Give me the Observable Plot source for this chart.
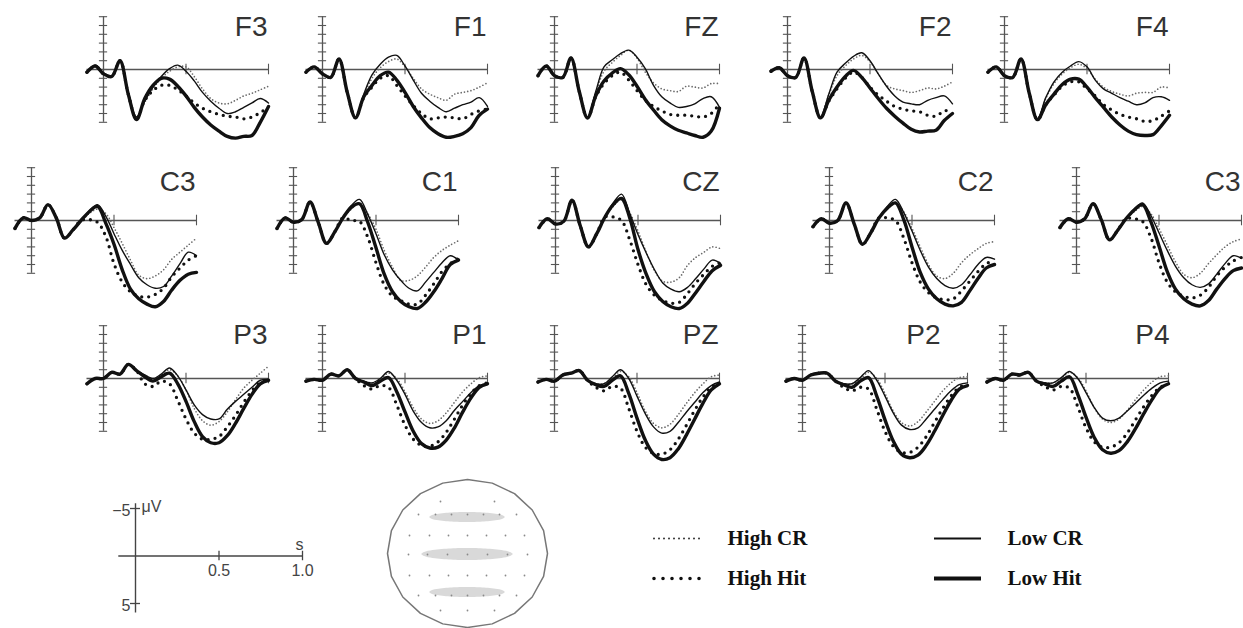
<!DOCTYPE html>
<html><head><meta charset="utf-8">
<script src="https://cdn.jsdelivr.net/npm/d3@7"></script>
<script src="https://cdn.jsdelivr.net/npm/@observablehq/plot@0.6"></script>
<style>
html,body{margin:0;padding:0;background:#fff;overflow:hidden;}
#root{position:relative;width:1243px;height:628px;overflow:hidden;background:#fff;}
#root > svg{position:absolute;margin:0;}
</style></head><body><div id="root"></div>
<script>
// ---------- DATA (seconds, microvolts; negative plotted up) ----------
const times = [-0.1,-0.05,0,0.05,0.1,0.15,0.2,0.25,0.3,0.35,0.4,0.45,0.5,0.55,0.6,0.65,0.7,0.75,0.8,0.85,0.9,0.95,1.0];
const conditions = ["High CR","High Hit","Low CR","Low Hit"];
const channelNames = ["F3","F1","FZ","F2","F4","C3","C1","CZ","C2","C3","P3","P1","PZ","P2","P4"];

const F3_highCR  = [0.3,-0.5,0.4,0.7,-0.9,2.6,5.4,3.7,2.2,1.0,0.2,-0.3,-0.3,0.8,2.2,3.3,3.8,3.9,3.5,3.0,2.7,2.3,1.9];
const F3_highHit = [0.3,-0.4,0.5,0.8,-1.0,2.8,5.6,3.5,2.4,1.8,1.8,2.3,3.0,3.8,4.4,4.8,5.1,5.3,5.4,5.6,5.4,4.9,4.3];
const F3_lowCR   = [0.3,-0.5,0.4,0.7,-0.9,2.6,5.4,3.6,2.0,0.8,-0.1,-0.5,0.2,1.3,2.6,3.6,4.4,5.0,4.8,4.3,3.8,3.3,3.8];
const F3_lowHit  = [0.3,-0.4,0.5,0.8,-1.0,2.8,5.7,3.3,1.8,1.0,1.1,1.9,3.0,4.3,5.4,6.3,7.0,7.6,7.8,7.6,7.5,6.0,4.2];

const F1_highCR  = [0.3,-0.3,0.5,0.9,-1.2,2.5,5.4,3.0,1.0,-0.2,-0.9,-1.2,-0.3,1.0,2.2,2.8,3.2,3.5,2.8,2.6,2.4,2.0,1.5];
const F1_highHit = [0.3,-0.3,0.5,0.9,-1.2,2.6,5.5,3.2,2.0,1.0,0.7,1.8,3.0,4.1,5.0,5.6,5.5,5.4,5.5,5.6,5.1,4.7,4.5];
const F1_lowCR   = [0.3,-0.3,0.5,0.9,-1.2,2.5,5.4,2.8,0.6,-0.6,-1.4,-1.6,-0.4,1.2,2.7,3.6,4.3,4.8,4.4,4.0,3.7,3.2,4.2];
const F1_lowHit  = [0.3,-0.3,0.5,0.9,-1.2,2.6,5.5,3.1,1.8,0.7,0.3,1.2,2.6,4.2,5.5,6.6,7.3,7.7,7.6,7.3,6.6,5.2,4.5];

const FZ_highCR  = [0.7,-0.4,0.7,0.9,-1.3,2.4,5.4,2.6,0.2,-0.8,-1.6,-2.2,-1.3,0.3,1.5,2.2,2.4,2.5,1.9,2.0,2.1,1.6,1.6];
const FZ_highHit = [0.7,-0.4,0.7,0.9,-1.3,2.5,5.5,3.1,1.6,0.7,0.3,1.2,2.4,3.5,4.2,4.7,5.1,5.2,5.2,5.3,5.4,5.0,3.9];
const FZ_lowCR   = [0.7,-0.4,0.7,0.9,-1.3,2.4,5.4,2.5,-0.3,-1.1,-1.8,-2.2,-1.4,-0.1,1.8,3.1,3.8,4.3,4.2,3.9,3.3,3.1,4.3];
const FZ_lowHit  = [0.7,-0.4,0.7,0.9,-1.3,2.5,5.5,3.0,1.3,0.4,-0.1,0.6,1.9,3.4,4.6,5.7,6.4,6.9,7.2,7.5,7.7,7.0,4.4];

const F2_highCR  = [0.2,-0.2,0.7,0.9,-1.3,2.4,5.4,2.9,0.7,-0.4,-1.2,-1.6,-0.9,0.5,1.8,2.2,2.4,2.6,2.4,2.1,2.2,1.9,1.4];
const F2_highHit = [0.2,-0.2,0.7,0.9,-1.3,2.5,5.5,3.6,2.2,1.0,0.3,0.9,2.0,2.9,3.6,4.2,4.5,4.7,4.8,5.2,5.3,4.7,4.7];
const F2_lowCR   = [0.2,-0.2,0.7,0.9,-1.3,2.4,5.4,2.8,0.3,-0.7,-1.5,-1.9,-1.0,0.5,1.9,3.0,3.7,3.9,4.0,3.5,3.2,3.0,3.9];
const F2_lowHit  = [0.2,-0.2,0.7,0.9,-1.3,2.5,5.5,3.5,2.0,0.8,0.1,0.9,2.1,3.3,4.4,5.3,6.1,6.8,7.1,7.0,6.9,5.8,5.0];

const F4_highCR  = [0.3,-0.3,0.7,0.9,-1.2,2.6,5.6,3.3,1.6,0.5,-0.2,-0.6,-0.1,1.1,2.0,2.5,2.8,3.0,2.7,2.6,2.6,2.0,2.1];
const F4_highHit = [0.3,-0.3,0.7,0.9,-1.2,2.7,5.7,4.0,2.9,1.9,1.4,1.4,2.2,3.0,4.0,4.6,5.1,5.4,5.6,5.9,5.8,5.3,4.7];
const F4_lowCR   = [0.3,-0.3,0.7,0.9,-1.2,2.6,5.6,3.2,1.4,0.3,-0.4,-0.9,-0.3,1.2,2.2,2.7,3.2,3.6,4.0,3.8,3.2,3.1,3.5];
const F4_lowHit  = [0.3,-0.3,0.7,0.9,-1.2,2.7,5.7,4.0,2.8,1.7,1.1,1.1,2.0,3.2,4.3,5.4,6.3,7.0,7.4,7.5,7.4,6.4,5.2];

const C3L_highCR  = [0.9,-0.3,0.0,-0.3,-1.8,-0.3,2.0,1.1,0.1,-0.8,-1.3,-0.8,0.8,2.6,4.5,6.2,6.6,6.3,5.6,4.4,3.6,2.8,2.0];
const C3L_highHit = [0.9,-0.3,0.0,-0.3,-1.8,-0.3,2.0,1.1,0.0,-0.1,0.2,1.8,4.9,7.0,8.1,8.6,8.7,8.4,7.7,6.4,5.4,4.5,4.0];
const C3L_lowCR   = [0.9,-0.3,0.0,-0.3,-1.8,-0.3,2.0,1.1,0.0,-1.1,-1.8,-0.5,1.5,3.4,5.0,6.5,7.3,7.7,7.5,6.3,4.9,3.6,4.0];
const C3L_lowHit  = [0.9,-0.3,0.0,-0.3,-1.8,-0.3,2.0,1.1,0.0,-1.0,-1.6,0.3,2.7,5.6,7.8,8.9,9.5,9.8,9.2,7.9,6.8,6.1,5.9];

const C1_highCR  = [0.9,-0.3,0.2,-0.1,-2.1,0.2,2.6,1.3,-0.3,-1.3,-2.0,-0.8,1.0,3.4,5.3,6.8,6.8,6.3,5.3,4.2,3.4,2.8,2.3];
const C1_highHit = [0.9,-0.3,0.2,-0.1,-2.1,0.2,2.6,1.3,-0.3,0.0,0.1,1.9,4.8,7.3,8.6,9.1,9.5,9.5,8.5,7.2,5.8,4.9,4.3];
const C1_lowCR   = [0.9,-0.3,0.2,-0.1,-2.1,0.2,2.6,1.3,-0.3,-1.7,-2.4,-0.7,1.5,3.9,5.6,6.8,7.7,8.0,7.0,5.9,4.8,4.0,4.5];
const C1_lowHit  = [0.9,-0.3,0.2,-0.1,-2.1,0.2,2.6,1.3,-0.3,-1.5,-1.9,0.2,3.1,6.1,8.1,9.2,9.8,10.0,9.3,8.1,6.6,5.0,4.5];

const CZ_highCR  = [0.8,-0.2,0.4,0.1,-2.3,0.6,3.0,1.5,-0.4,-1.6,-2.4,-0.9,1.2,3.6,5.7,6.9,7.0,6.5,5.1,4.2,3.6,3.0,3.2];
const CZ_highHit = [0.8,-0.2,0.4,0.1,-2.3,0.6,3.0,1.5,-0.4,-0.4,0.0,2.2,5.0,7.3,8.5,9.1,9.4,9.3,8.3,7.1,6.1,5.2,4.8];
const CZ_lowCR   = [0.8,-0.2,0.4,0.1,-2.3,0.6,3.0,1.5,-0.4,-2.0,-3.0,-0.8,1.6,3.7,5.6,7.1,7.8,8.1,7.6,6.6,5.5,4.5,4.9];
const CZ_lowHit  = [0.8,-0.2,0.4,0.1,-2.3,0.6,3.0,1.5,-0.4,-1.8,-2.5,-0.3,3.3,6.1,8.1,9.2,9.8,10.0,9.4,8.2,6.9,5.7,5.1];

const C2_highCR  = [0.7,-0.2,0.3,0.0,-2.0,0.4,2.7,1.4,-0.3,-1.3,-2.0,-1.0,0.9,3.0,5.0,6.3,6.6,6.0,4.8,3.9,3.2,2.6,2.4];
const C2_highHit = [0.7,-0.2,0.3,0.0,-2.0,0.4,2.7,1.4,-0.3,-0.3,0.0,2.0,4.8,7.0,8.2,8.8,9.0,8.9,8.0,6.9,5.8,4.9,4.6];
const C2_lowCR   = [0.7,-0.2,0.3,0.0,-2.0,0.4,2.7,1.4,-0.3,-1.6,-2.4,-0.9,1.2,3.4,5.3,6.6,7.4,7.7,7.3,6.2,5.0,4.2,4.4];
const C2_lowHit  = [0.7,-0.2,0.3,0.0,-2.0,0.4,2.7,1.4,-0.3,-1.4,-2.0,-0.1,3.0,5.9,7.8,8.9,9.5,9.7,9.3,8.0,6.6,5.4,5.0];

const C3R_highCR  = [0.8,-0.2,0.2,-0.2,-1.9,-0.1,2.2,1.1,-0.2,-1.0,-1.6,-0.8,0.9,2.8,4.7,6.1,6.5,6.0,4.9,3.9,3.0,2.4,2.1];
const C3R_highHit = [0.8,-0.2,0.2,-0.2,-1.9,-0.1,2.2,1.1,-0.2,-0.2,0.1,1.9,4.8,7.0,8.1,8.6,8.8,8.5,7.6,6.3,5.3,4.6,4.2];
const C3R_lowCR   = [0.8,-0.2,0.2,-0.2,-1.9,-0.1,2.2,1.1,-0.2,-1.3,-2.0,-0.6,1.4,3.4,5.2,6.5,7.3,7.6,7.2,6.1,4.9,4.0,4.3];
const C3R_lowHit  = [0.8,-0.2,0.2,-0.2,-1.9,-0.1,2.2,1.1,-0.2,-1.2,-1.8,0.1,2.9,5.8,7.8,8.9,9.5,9.7,9.1,7.8,6.6,5.7,5.4];

const P3_highCR  = [0.6,0.0,0.0,-0.7,-0.5,-1.6,-0.9,-0.4,0.0,-0.4,-1.0,-0.3,1.3,3.4,4.8,5.3,4.9,3.8,2.4,1.1,0.2,-0.6,-1.4];
const P3_highHit = [0.6,0.0,0.0,-0.7,-0.5,-1.6,-0.9,0.6,0.9,0.3,0.6,2.5,4.6,6.2,6.9,6.9,6.6,5.5,4.2,2.7,1.4,0.5,0.2];
const P3_lowCR   = [0.6,0.0,0.0,-0.7,-0.5,-1.6,-0.9,-0.4,0.0,-0.5,-1.2,-0.3,1.3,3.0,4.1,4.6,4.6,3.5,2.6,1.8,1.0,0.2,0.1];
const P3_lowHit  = [0.6,0.0,0.0,-0.7,-0.5,-1.6,-0.9,-0.2,0.3,-0.2,-0.6,0.6,2.6,4.9,6.6,7.3,7.3,6.5,5.1,3.4,1.8,0.6,0.2];

const P1_highCR  = [0.3,0.1,0.2,-0.5,-0.3,-1.0,0.0,0.3,0.5,0.1,-0.6,0.0,1.5,3.3,4.6,5.1,4.8,3.9,2.7,1.5,0.6,-0.1,-0.3];
const P1_highHit = [0.3,0.1,0.2,-0.5,-0.3,-1.0,0.0,0.8,1.2,0.8,1.0,3.0,5.3,6.9,7.6,7.7,7.2,6.1,4.6,3.0,1.7,0.8,0.5];
const P1_lowCR   = [0.3,0.1,0.2,-0.5,-0.3,-1.0,0.0,0.3,0.5,0.0,-0.8,0.2,1.8,3.7,5.0,5.6,5.5,4.8,3.6,2.6,1.6,0.8,0.6];
const P1_lowHit  = [0.3,0.1,0.2,-0.5,-0.3,-1.0,0.0,0.4,0.8,0.3,-0.1,1.5,3.8,6.0,7.4,7.9,7.8,7.0,5.6,3.8,2.2,1.0,0.6];

const PZ_highCR  = [0.4,0.1,0.3,-0.4,-0.6,-0.9,0.2,0.6,0.6,0.0,-0.8,-0.2,1.6,3.7,5.1,5.6,5.2,4.1,2.8,1.6,0.6,-0.2,-0.4];
const PZ_highHit = [0.4,0.1,0.3,-0.4,-0.6,-0.9,0.2,1.0,1.4,0.9,1.1,3.4,6.0,7.8,8.5,8.6,8.1,6.9,5.3,3.6,2.1,1.0,0.5];
const PZ_lowCR   = [0.4,0.1,0.3,-0.4,-0.6,-0.9,0.2,0.6,0.6,-0.2,-1.0,0.0,2.0,4.0,5.5,6.2,6.0,5.0,3.8,2.7,1.6,0.8,0.4];
const PZ_lowHit  = [0.4,0.1,0.3,-0.4,-0.6,-0.9,0.2,0.7,0.9,0.2,-0.3,1.7,4.5,7.0,8.6,9.2,9.0,8.0,6.4,4.6,2.8,1.3,0.6];

const P2_highCR  = [0.3,0.0,0.2,-0.4,-0.6,-0.6,0.3,0.6,0.6,0.1,-0.7,0.0,1.7,3.7,5.0,5.4,4.9,3.8,2.6,1.4,0.5,-0.1,-0.2];
const P2_highHit = [0.3,0.0,0.2,-0.4,-0.6,-0.6,0.3,1.0,1.4,1.0,1.2,3.5,6.0,7.7,8.4,8.4,7.8,6.6,5.0,3.4,2.0,1.0,0.7];
const P2_lowCR   = [0.3,0.0,0.2,-0.4,-0.6,-0.6,0.3,0.6,0.6,-0.1,-0.9,0.2,2.0,3.9,5.3,5.8,5.6,4.6,3.5,2.4,1.4,0.7,0.5];
const P2_lowHit  = [0.3,0.0,0.2,-0.4,-0.6,-0.6,0.3,0.7,1.0,0.3,-0.1,2.0,4.7,7.1,8.6,9.0,8.7,7.6,6.0,4.2,2.5,1.2,0.8];

const P4_highCR  = [0.4,0.0,0.2,-0.5,-0.4,-0.7,0.3,0.5,0.5,0.0,-0.7,-0.1,1.4,3.3,4.6,5.0,4.6,3.6,2.4,1.3,0.4,-0.2,-0.3];
const P4_highHit = [0.4,0.0,0.2,-0.5,-0.4,-0.7,0.3,0.9,1.3,0.9,1.1,3.2,5.6,7.2,7.8,7.8,7.3,6.2,4.7,3.2,1.9,1.0,0.6];
const P4_lowCR   = [0.4,0.0,0.2,-0.5,-0.4,-0.7,0.3,0.5,0.5,-0.1,-0.8,0.0,1.6,3.3,4.5,4.8,4.5,3.7,2.8,1.9,1.1,0.5,0.3];
const P4_lowHit  = [0.4,0.0,0.2,-0.5,-0.4,-0.7,0.3,0.6,0.9,0.3,-0.2,1.8,4.4,6.7,8.1,8.5,8.2,7.2,5.7,4.0,2.4,1.1,0.6];

const seriesByChannel = [
  [F3_highCR, F3_highHit, F3_lowCR, F3_lowHit],
  [F1_highCR, F1_highHit, F1_lowCR, F1_lowHit],
  [FZ_highCR, FZ_highHit, FZ_lowCR, FZ_lowHit],
  [F2_highCR, F2_highHit, F2_lowCR, F2_lowHit],
  [F4_highCR, F4_highHit, F4_lowCR, F4_lowHit],
  [C3L_highCR, C3L_highHit, C3L_lowCR, C3L_lowHit],
  [C1_highCR, C1_highHit, C1_lowCR, C1_lowHit],
  [CZ_highCR, CZ_highHit, CZ_lowCR, CZ_lowHit],
  [C2_highCR, C2_highHit, C2_lowCR, C2_lowHit],
  [C3R_highCR, C3R_highHit, C3R_lowCR, C3R_lowHit],
  [P3_highCR, P3_highHit, P3_lowCR, P3_lowHit],
  [P1_highCR, P1_highHit, P1_lowCR, P1_lowHit],
  [PZ_highCR, PZ_highHit, PZ_lowCR, PZ_lowHit],
  [P2_highCR, P2_highHit, P2_lowCR, P2_lowHit],
  [P4_highCR, P4_highHit, P4_lowCR, P4_lowHit]
];
const panelTicksY = [-6,-5,-4,-3,-2,-1,0,1,2,3,4,5,6];
const panelTicksX = [0.5, 1.0];
const scaleTicksY = [-5, 5];
const scaleTicksX = [0.5, 1.0];
const scaleTickLabelsX = ["0.5", "1.0"];

// electrode map (offsets from head centre)
const electrodeDX = [-27,27, -49,-32,-16,0,16,32,49, -58,-38,-19,0,19,38,57, -59,-40,-20,0,20,40,60, -58,-38,-19,0,19,38,57, -49,-32,-16,0,16,32,49, -27,0,27];
const electrodeDY = [-52,-52, -39,-39,-39,-39,-39,-39,-39, -18,-18,-18,-18,-18,-18,-18, 1,1,1,1,1,1,1, 22,22,22,22,22,22,22, 42,42,42,42,42,42,42, 57,57,57];

// ---------- LAYOUT / STYLE ----------
const PX_S = 165, PX_UV = 8.8;
const panelLayout = [
  {ax:103, zy:69, ly:-4.8, ldx:-1},{ax:322, zy:69, ly:-4.8, ldx:-1},{ax:554, zy:69, ly:-4.8, ldx:-1},{ax:787, zy:69, ly:-4.8, ldx:-1},{ax:1004, zy:69, ly:-4.8, ldx:-1},
  {ax:31, zy:220, ly:-4.4, ldx:-1},{ax:293, zy:220, ly:-4.4, ldx:-1},{ax:555, zy:220, ly:-4.4, ldx:-1},{ax:829, zy:220, ly:-4.4, ldx:-1},{ax:1076, zy:220, ly:-4.4, ldx:-1},
  {ax:103, zy:378, ly:-4.9, ldx:-1},{ax:322, zy:378, ly:-4.9, ldx:-1},{ax:554, zy:378, ly:-4.9, ldx:-1},{ax:802, zy:378, ly:-4.9, ldx:-27},{ax:1003, zy:378, ly:-4.9, ldx:1}
];
const condStyle = [
  {stroke:"#6a6a6a", strokeWidth:1.7, strokeDasharray:"0 3.3"},
  {stroke:"#111", strokeWidth:3.3, strokeDasharray:"0 7"},
  {stroke:"#111", strokeWidth:1.4, strokeDasharray:null},
  {stroke:"#111", strokeWidth:3.4, strokeDasharray:null}
];
const axisColor = "#555";
const root = document.getElementById("root");
const svgStyle = {background:"none", overflow:"visible", position:"absolute", maxWidth:"none"};

function place(svg, left, top) {
  svg.style.left = left + "px"; svg.style.top = top + "px";
  root.appendChild(svg);
}

channelNames.forEach((name, k) => {
  const L = panelLayout[k];
  const W = 210, H = 180, padL = 22, zl = 66;
  const marks = [
    Plot.ruleY([0], {x1:-0.1, x2:1, stroke:axisColor, strokeWidth:1.3}),
    Plot.ruleX([0], {y1:-6, y2:6, stroke:axisColor, strokeWidth:1.3}),
    Plot.ruleY(panelTicksY, {x1:-0.025, x2:0.025, stroke:axisColor, strokeWidth:1.1}),
    Plot.ruleX(panelTicksX, {y1:-0.6, y2:0.6, stroke:axisColor, strokeWidth:1.1}),
    Plot.text([name], {x:1, y:L.ly, text:d=>d, textAnchor:"end", dx:L.ldx, fontSize:28, fill:"#333", fontFamily:"Liberation Sans, Arial, sans-serif"})
  ];
  seriesByChannel[k].forEach((vals, c) => {
    const s = condStyle[c];
    marks.push(Plot.line(vals, {x:(d,i)=>times[i], y:d=>d, curve:"catmull-rom",
      stroke:s.stroke, strokeWidth:s.strokeWidth, strokeDasharray:s.strokeDasharray, strokeLinecap:"round", strokeLinejoin:"round"}));
  });
  const svg = Plot.plot({
    width:W, height:H, margin:0, style:svgStyle,
    x:{domain:[-padL/PX_S, (W-padL)/PX_S], range:[0,W], axis:null},
    y:{domain:[-zl/PX_UV, (H-zl)/PX_UV], range:[0,H], axis:null},
    marks
  });
  place(svg, L.ax - padL, L.zy - zl);
});

// ---------- scale legend ----------
{
  const W = 230, H = 135;
  const svg = Plot.plot({
    width:W, height:H, margin:0, style:svgStyle,
    x:{domain:[0,1], range:[35,202], axis:null},
    y:{domain:[-5,5], range:[18,113], axis:null},
    marks:[
      Plot.ruleY([0], {x1:-0.1, x2:1, stroke:"#444", strokeWidth:1.4}),
      Plot.ruleX([0], {y1:-5.5, y2:6, stroke:"#444", strokeWidth:1.4}),
      Plot.ruleY(scaleTicksY, {x1:-0.03, x2:0.03, stroke:"#444", strokeWidth:1.3}),
      Plot.ruleX(scaleTicksX, {y1:-0.5, y2:0.5, stroke:"#444", strokeWidth:1.3}),
      Plot.text(scaleTicksY, {x:0, y:d=>d, text:d=>d<0?"\u2212"+Math.abs(d):String(d), textAnchor:"end", dx:-5, dy:2, fontSize:16, fill:"#444", fontFamily:"Liberation Sans, Arial, sans-serif"}),
      Plot.text(["\u03bcV"], {x:0, y:-5, text:d=>d, textAnchor:"start", dx:6, dy:-2, fontSize:16, fill:"#444", fontFamily:"Liberation Sans, Arial, sans-serif"}),
      Plot.text(scaleTicksX, {x:d=>d, y:0, text:(d,i)=>scaleTickLabelsX[i], dy:15, fontSize:16, fill:"#444", fontFamily:"Liberation Sans, Arial, sans-serif"}),
      Plot.text(["s"], {x:1, y:0, text:d=>d, dx:-3, dy:-11, fontSize:16, fill:"#444", fontFamily:"Liberation Sans, Arial, sans-serif"})
    ]
  });
  place(svg, 100, 490);
}

// ---------- head map ----------
{
  const W = 180, H = 160;
  const outline = d3.range(21).map(i => { const a = -Math.PI/2 + i*2*Math.PI/20; return {x:80*Math.cos(a), y:74*Math.sin(a)}; });
  const bands = [{cy:-36, w:38, h:5},{cy:1, w:46, h:6},{cy:39, w:38, h:5}];
  const bandPts = bands.flatMap((b, j) => d3.range(41).map(i => { const x = -b.w + i*(2*b.w/40); const dy = b.h*Math.sqrt(Math.max(0, 1-(x/b.w)**2)); return {z:j, x, y1:b.cy-dy, y2:b.cy+dy}; }));
  const svg = Plot.plot({
    width:W, height:H, margin:0, style:svgStyle,
    x:{domain:[-90,90], range:[0,W], axis:null},
    y:{domain:[-80,80], range:[0,H], axis:null},
    marks:[
      Plot.areaY(bandPts, {x:"x", y1:"y1", y2:"y2", z:"z", fill:"#d9d9d9"}),
      Plot.dot(electrodeDX, {x:d=>d, y:(d,i)=>electrodeDY[i], r:0.9, fill:"#8a8a8a", stroke:null}),
      Plot.line(outline, {x:"x", y:"y", stroke:"#777", strokeWidth:1.5})
    ]
  });
  place(svg, 467-90, 553-80);
}

// ---------- condition legend ----------
{
  const W = 500, H = 90;
  const items = conditions.map((label, i) => ({label, col: i < 2 ? 0 : 1, row: i % 2, style: i}));
  const legendStyle = [
    {stroke:"#333", strokeWidth:2, strokeDasharray:"0 5"},
    {stroke:"#111", strokeWidth:3.6, strokeDasharray:"0 9"},
    {stroke:"#111", strokeWidth:2, strokeDasharray:null},
    {stroke:"#111", strokeWidth:4.2, strokeDasharray:null}
  ];
  const marks = items.map(it => {
    const s = legendStyle[it.style];
    return Plot.ruleY([it.row], {x1:it.col*280+14, x2:it.col*280+61, stroke:s.stroke, strokeWidth:s.strokeWidth, strokeDasharray:s.strokeDasharray, strokeLinecap:it.style<2?"round":"butt"});
  });
  marks.push(Plot.text(items, {x:d=>d.col*280+87, y:"row", text:"label", textAnchor:"start", fontSize:21, fontWeight:"bold", fill:"#111", fontFamily:"Liberation Serif, Times New Roman, serif"}));
  const svg = Plot.plot({
    width:W, height:H, margin:0, style:svgStyle,
    x:{domain:[0,W], range:[0,W], axis:null},
    y:{domain:[0,1], range:[23,63], axis:null},
    marks
  });
  place(svg, 640, 515);
}
</script></body></html>
